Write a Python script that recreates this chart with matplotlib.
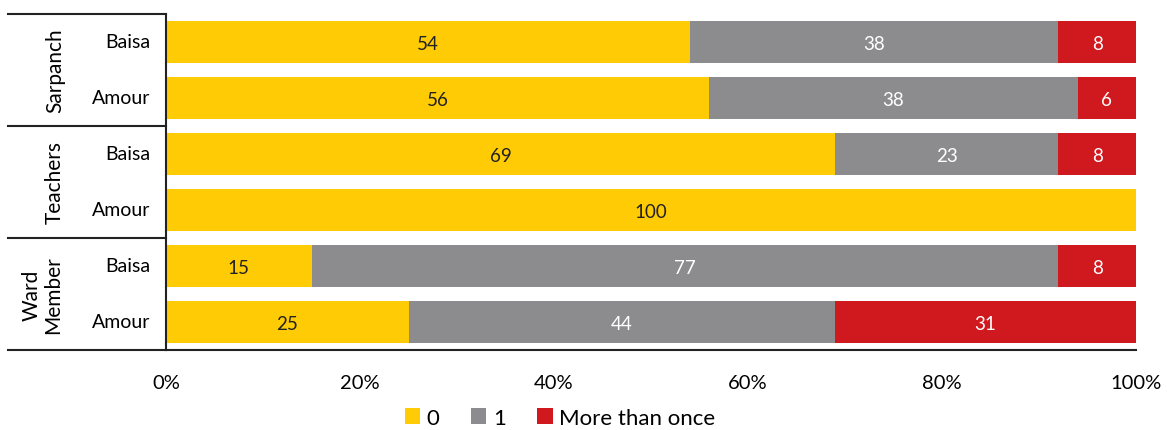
import numpy as np
import matplotlib.pyplot as plt
from matplotlib.lines import Line2D

# Data
groups = ["Sarpanch", "Teachers", "Ward\nMember"]
places = ["Baisa", "Amour", "Baisa", "Amour", "Baisa", "Amour"]
zero = [54, 56, 69, 100, 15, 25]
once = [38, 38, 23, 0, 77, 44]
more = [8, 6, 8, 0, 8, 31]
series_names = ["0", "1", "More than once"]
colors = ["#FFCB05", "#8C8C8E", "#D0191F"]
text_colors = ["#222222", "white", "white"]

plt.rcParams['font.family'] = ['Lato', 'DejaVu Sans']

fig = plt.figure(figsize=(11.67, 4.31), dpi=100)
W, H = 1167, 431
ax = fig.add_axes([166 / W, 1 - 351 / H, (1136 - 166) / W, 336 / H])

y = np.arange(len(places))
left = np.zeros(len(places))
for vals, name, col, tcol in zip([zero, once, more], series_names, colors, text_colors):
    vals = np.array(vals, dtype=float)
    bars = ax.barh(y, vals, left=left, height=0.75, color=col, label=name)
    for b, v in zip(bars, vals):
        if v > 0:
            ax.text(b.get_x() + b.get_width() / 2, b.get_y() + b.get_height() / 2 + 0.03, f"{int(v)}",
                    ha="center", va="center", color=tcol, fontsize=13.5)
    left += vals

ax.set_xlim(0, 100)
ax.set_ylim(len(places) - 0.5, -0.5)
ax.set_yticks([])
ax.set_xticks(np.arange(0, 101, 20))
ax.set_xticklabels([f"{v}%" for v in range(0, 101, 20)], fontsize=14.5)
ax.tick_params(axis="x", length=0, pad=17)
for s in ["top", "right"]:
    ax.spines[s].set_visible(False)
for s in ["left", "bottom"]:
    ax.spines[s].set_linewidth(1.5)
    ax.spines[s].set_color("#222222")

# Left category table
for yp in [15, 127, 239, 351]:
    fig.add_artist(Line2D([8 / W, 166 / W], [1 - yp / H, 1 - yp / H], color="#222222", lw=1.5))
for i, p in enumerate(places):
    yy = 1 - (15 + 56 * i + 28) / H
    fig.text(150 / W, yy, p, ha="right", va="center", fontsize=14)
for i, g in enumerate(groups):
    yy = 1 - (15 + 112 * i + 56) / H
    xx = 42 / W if "\n" in g else 55 / W
    fig.text(xx, yy, g, ha="center", va="center", rotation=90, fontsize=15, linespacing=1.1)

fig.legend(*ax.get_legend_handles_labels(), loc="center", bbox_to_anchor=(560 / W, 1 - 419 / H),
           ncol=3, frameon=False, fontsize=16, handlelength=0.7, handleheight=0.7,
           handletextpad=0.3, columnspacing=1.4, borderpad=0)

fig.savefig("out.png", dpi=100)
